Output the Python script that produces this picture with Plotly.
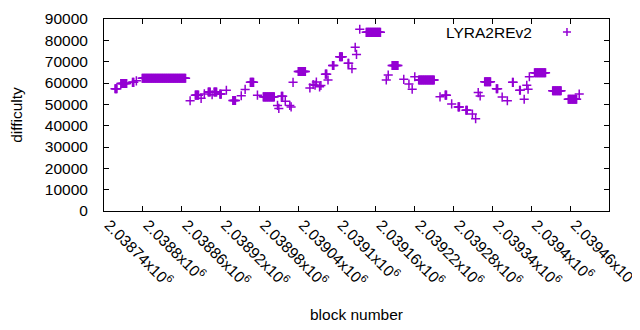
import plotly.graph_objects as go

# ---- data (runs of equal difficulty) ----
run_first_block = [2038757, 2038766, 2038784, 2038790, 2038799, 2038873, 2038881, 2038890, 2038895, 2038901,
                   2038907, 2038910, 2038919, 2038929, 2038939, 2038952, 2038958, 2038966, 2038977, 2038986,
                   2039008, 2039010, 2039014, 2039020, 2039027, 2039029, 2039032, 2039040, 2039058, 2039063,
                   2039066, 2039068, 2039073, 2039075, 2039082, 2039086, 2039093, 2039104, 2039117, 2039123,
                   2039128, 2039130, 2039135, 2039145, 2039176, 2039179, 2039185, 2039203, 2039211, 2039216,
                   2039220, 2039226, 2039259, 2039267, 2039277, 2039287, 2039299, 2039309, 2039314, 2039318,
                   2039321, 2039328, 2039346, 2039355, 2039363, 2039371, 2039382, 2039389, 2039393, 2039395,
                   2039397, 2039405, 2039433, 2039457, 2039474]
run_last_block = [2038760, 2038775, 2038786, 2038790, 2038866, 2038873, 2038886, 2038890, 2038895, 2038904,
                  2038907, 2038914, 2038921, 2038929, 2038943, 2038952, 2038958, 2038971, 2038977, 2039003,
                  2039008, 2039010, 2039016, 2039020, 2039027, 2039029, 2039032, 2039051, 2039058, 2039063,
                  2039066, 2039068, 2039073, 2039075, 2039084, 2039086, 2039095, 2039108, 2039118, 2039123,
                  2039128, 2039130, 2039135, 2039167, 2039176, 2039179, 2039194, 2039203, 2039211, 2039216,
                  2039220, 2039250, 2039259, 2039269, 2039277, 2039289, 2039301, 2039309, 2039314, 2039318,
                  2039321, 2039337, 2039348, 2039355, 2039363, 2039372, 2039383, 2039389, 2039393, 2039395,
                  2039397, 2039422, 2039446, 2039470, 2039474]
run_difficulty = [57300, 59800, 60300, 61000, 62200, 51700, 54300, 52800, 54900, 55800,
                  54500, 55800, 54800, 56600, 51800, 54000, 57000, 60300, 54300, 53500,
                  49500, 48100, 53800, 51500, 49500, 48800, 60300, 65400, 57700, 59300,
                  59000, 60500, 58200, 58800, 64150, 61400, 68200, 72300, 69200, 66700,
                  76700, 73400, 85200, 83750, 61400, 63700, 68200, 61700, 59500, 57100,
                  62900, 61400, 53500, 54300, 50200, 48800, 47200, 45500, 43300, 55500,
                  53900, 60560, 57300, 53400, 51700, 60300, 56600, 52400, 58900, 57100,
                  62900, 64800, 56400, 52400, 54800]

x_tick_values = [2038740, 2038800, 2038860, 2038920, 2038980, 2039040, 2039100,
                 2039160, 2039220, 2039280, 2039340, 2039400, 2039460, 2039520]
x_tick_labels = ["2.03874x10<sup>6</sup>", "2.0388x10<sup>6</sup>", "2.03886x10<sup>6</sup>",
                 "2.03892x10<sup>6</sup>", "2.03898x10<sup>6</sup>", "2.03904x10<sup>6</sup>",
                 "2.0391x10<sup>6</sup>", "2.03916x10<sup>6</sup>", "2.03922x10<sup>6</sup>",
                 "2.03928x10<sup>6</sup>", "2.03934x10<sup>6</sup>", "2.0394x10<sup>6</sup>",
                 "2.03946x10<sup>6</sup>", "2.0395x10<sup>6</sup>"]
y_tick_values = [0, 10000, 20000, 30000, 40000, 50000, 60000, 70000, 80000, 90000]
y_tick_labels = ["0", "10000", "20000", "30000", "40000", "50000", "60000", "70000", "80000", "90000"]
series_name = "LYRA2REv2"

# expand runs into one point per block
blocks, diffs = [], []
for b0, b1, d in zip(run_first_block, run_last_block, run_difficulty):
    for b in range(b0, b1 + 1):
        blocks.append(b)
        diffs.append(d)

PURPLE = "#9400D3"
FONT = dict(family="Liberation Sans, Arial, sans-serif", size=15.5, color="#000000")

fig = go.Figure()
fig.add_trace(go.Scatter(
    x=blocks, y=diffs, mode="markers", name=series_name, showlegend=False,
    marker=dict(symbol="cross-thin", size=6.5, color=PURPLE, line=dict(width=1.5, color=PURPLE)),
))

axis_common = dict(showgrid=False, zeroline=False, showline=True, linecolor="#000000", linewidth=1,
                   mirror="ticks", ticks="inside", ticklen=5, tickcolor="#000000", tickwidth=1,
                   tickfont=FONT, automargin=False)

# the page body adds an 8px offset, margins compensate for it
fig.update_layout(
    width=640, height=330,
    margin=dict(l=96, r=39, t=11, b=127),
    paper_bgcolor="white", plot_bgcolor="white",
    font=FONT,
    xaxis=dict(range=[x_tick_values[0], x_tick_values[-1]], tickvals=x_tick_values,
               ticktext=x_tick_labels, tickangle=45, ticklabelstandoff=-2, ticklabelshift=5,
               title=dict(text="block number", font=FONT, standoff=20), **axis_common),
    yaxis=dict(range=[0, 90000], tickvals=y_tick_values, ticktext=y_tick_labels,
               ticklabelstandoff=12,
               title=dict(text="difficulty", font=FONT, standoff=22), **axis_common),
    annotations=[dict(text=series_name, xref="paper", yref="paper", x=0.851, y=0.932,
                      xanchor="right", yanchor="middle", showarrow=False, font=FONT)],
    shapes=[
        dict(type="line", xref="paper", yref="paper", x0=0.9168 - 0.008, x1=0.9168 + 0.008,
             y0=0.9323, y1=0.9323, line=dict(color=PURPLE, width=1.5)),
        dict(type="line", xref="paper", yref="paper", x0=0.9168, x1=0.9168,
             y0=0.9323 - 0.021, y1=0.9323 + 0.021, line=dict(color=PURPLE, width=1.5)),
    ],
)

fig.write_html("out.html")
